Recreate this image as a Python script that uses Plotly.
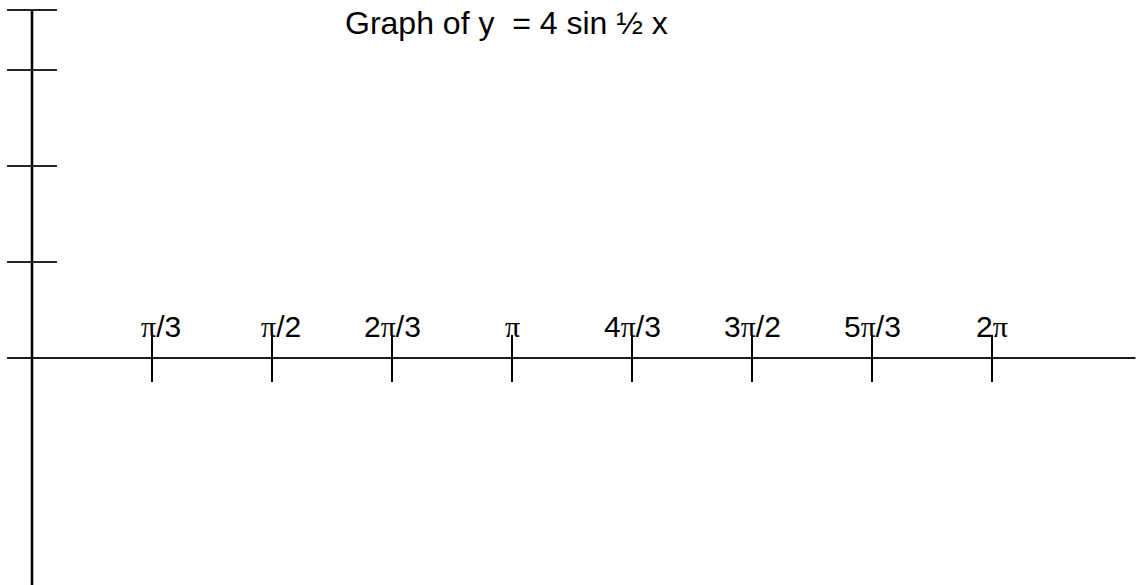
import plotly.graph_objects as go

# Angle labels along the horizontal axis, one per equally spaced slot
x_labels = ["π/3", "π/2", "2π/3", "π", "4π/3", "3π/2", "5π/3", "2π"]
x_slots = [1, 2, 3, 4, 5, 6, 7, 8]

# Levels of the tick marks on the vertical axis
y_levels = [1, 2, 3, 3.625]

title_text = "Graph of y \u00a0= 4 sin ½ x"

W, H = 1137, 585
PX_X, PX_Y = 120.0, 96.0          # pixels per unit on each axis
ORIGIN_X, ORIGIN_Y = 32.0, 358.0  # pixel position of the origin

x0 = -ORIGIN_X / PX_X
x1 = x0 + W / PX_X
y1 = ORIGIN_Y / PX_Y
y0 = y1 - H / PX_Y

fig = go.Figure()

# horizontal axis
fig.add_trace(go.Scatter(
    x=[-25 / PX_X, (W - 1.5 - ORIGIN_X) / PX_X], y=[0, 0],
    mode="lines", line=dict(color="#1a1a1a", width=2), hoverinfo="skip"))

# vertical axis
fig.add_trace(go.Scatter(
    x=[0, 0], y=[max(y_levels), y0 - 1],
    mode="lines", line=dict(color="#000000", width=2.6), hoverinfo="skip"))

# tick marks on the vertical axis
yt_x, yt_y = [], []
for lv in y_levels:
    yt_x += [-25 / PX_X, 25 / PX_X, None]
    yt_y += [lv, lv, None]
fig.add_trace(go.Scatter(
    x=yt_x, y=yt_y, mode="lines",
    line=dict(color="#262626", width=2.2), hoverinfo="skip"))

# tick marks on the horizontal axis
xt_x, xt_y = [], []
for s in x_slots:
    xt_x += [s, s, None]
    xt_y += [23 / PX_Y, -24 / PX_Y, None]
fig.add_trace(go.Scatter(
    x=xt_x, y=xt_y, mode="lines",
    line=dict(color="#000000", width=2), hoverinfo="skip"))

# angle labels, with the π glyph in a serif face
for s, lab in zip(x_slots, x_labels):
    html = lab.replace("π", "<span style='font-family:Liberation Serif'>π</span>")
    shift = 9 if lab.startswith("π") and len(lab) > 1 else 0
    fig.add_annotation(
        x=s, y=0, xref="x", yref="y", text=html, showarrow=False,
        xanchor="center", yanchor="middle", xshift=shift, yshift=32,
        font=dict(family="Liberation Sans", size=30, color="#000000"))

fig.add_annotation(
    x=(345 + 667) / 2 / W, y=1, xref="paper", yref="paper",
    text=title_text, showarrow=False, xanchor="center", yanchor="top",
    yshift=-3,
    font=dict(family="Liberation Sans", size=32, color="#000000"))

fig.update_layout(
    width=W, height=H,
    margin=dict(l=0, r=0, t=0, b=0),
    paper_bgcolor="white", plot_bgcolor="white",
    showlegend=False,
    xaxis=dict(range=[x0, x1], visible=False, fixedrange=True),
    yaxis=dict(range=[y0, y1], visible=False, fixedrange=True),
)

fig.write_html("out.html")
